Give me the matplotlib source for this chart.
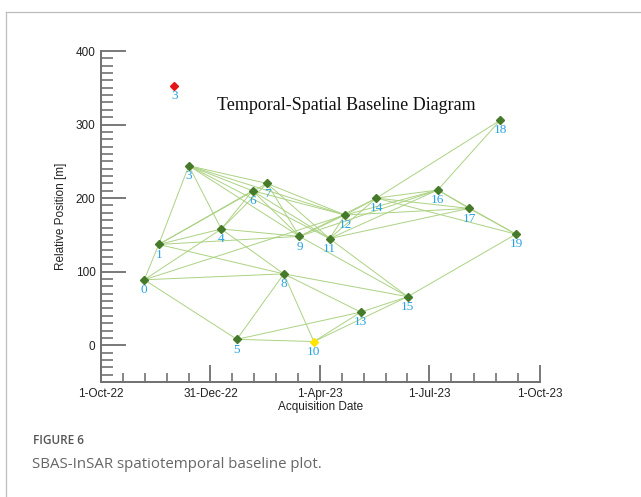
import numpy as np
import matplotlib
matplotlib.use("Agg")
import matplotlib.pyplot as plt
import matplotlib.dates as mdates

# acquisitions (label, date, relative position in m)
labels = ["0", "1", "3", "4", "5", "6", "7", "8", "9", "10",
          "11", "12", "13", "14", "15", "16", "17", "18", "19"]
dates = ["2022-11-06", "2022-11-18", "2022-12-13", "2023-01-09", "2023-01-22",
         "2023-02-04", "2023-02-16", "2023-03-02", "2023-03-15", "2023-03-27",
         "2023-04-09", "2023-04-22", "2023-05-05", "2023-05-18", "2023-06-13",
         "2023-07-08", "2023-08-03", "2023-08-29", "2023-09-11"]
position = [89, 137, 244, 158, 8, 210, 220, 97, 148, 5,
            145, 177, 45, 200, 66, 211, 186, 306, 151]

# outlier acquisition (red) and super master (yellow)
red_label = "3"
red_date = "2022-12-01"
red_pos = 353
master = "10"

# interferometric pairs, by label
pairs = [("0", "1"), ("0", "4"), ("0", "5"), ("0", "8"), ("0", "12"),
         ("1", "3"), ("1", "4"), ("1", "6"), ("1", "7"), ("1", "8"), ("1", "9"),
         ("3", "4"), ("3", "6"), ("3", "7"), ("3", "9"), ("3", "11"), ("3", "12"),
         ("4", "6"), ("4", "7"), ("4", "8"), ("4", "9"),
         ("5", "8"), ("5", "10"), ("5", "13"),
         ("6", "9"), ("6", "11"), ("6", "12"),
         ("7", "9"), ("7", "11"), ("7", "12"),
         ("8", "10"), ("8", "13"), ("8", "15"),
         ("9", "12"), ("9", "14"), ("9", "15"), ("9", "16"),
         ("10", "13"), ("10", "15"),
         ("11", "12"), ("11", "14"), ("11", "15"), ("11", "16"), ("11", "17"),
         ("12", "14"), ("12", "16"), ("12", "17"),
         ("13", "15"),
         ("14", "16"), ("14", "17"), ("14", "18"), ("14", "19"),
         ("15", "19"),
         ("16", "17"), ("16", "18"), ("16", "19"),
         ("17", "19")]

major_dates = ["2022-10-01", "2022-12-31", "2023-04-01", "2023-07-01", "2023-10-01"]
major_text = ["1-Oct-22", "31-Dec-22", "1-Apr-23", "1-Jul-23", "1-Oct-23"]

x = mdates.datestr2num(dates)
idx = {lab: i for i, lab in enumerate(labels)}

fig = plt.figure(figsize=(6.41, 4.97), dpi=100)

# frame of the figure panel
fig.add_artist(plt.Line2D([6 / 641, 1], [1 - 11.5 / 497] * 2, color="#bdbdbd", lw=0.9))
fig.add_artist(plt.Line2D([6 / 641] * 2, [0, 1 - 11.5 / 497], color="#bdbdbd", lw=0.9))

ax = fig.add_axes([101 / 641, 1 - 382 / 497, 439 / 641, 331 / 497])

for a, b in pairs:
    i, j = idx[a], idx[b]
    ax.plot([x[i], x[j]], [position[i], position[j]], color="#acd283", lw=0.7, zorder=1)

for i, lab in enumerate(labels):
    c = "#ffe600" if lab == master else "#467a2b"
    ax.plot(x[i], position[i], marker="D", ms=4.4, color=c, mec=c, ls="none", zorder=3)
    ax.annotate(lab, (x[i], position[i]), xytext=(0, -3), textcoords="offset points",
                ha="center", va="top", fontsize=9.5, color="#27a3e3",
                family="Liberation Serif", zorder=4)

xr = mdates.datestr2num(red_date)
ax.plot(xr, red_pos, marker="D", ms=4.4, color="#e5141b", ls="none", zorder=3)
ax.annotate(red_label, (xr, red_pos), xytext=(0, -3), textcoords="offset points",
            ha="center", va="top", fontsize=9.5, color="#27a3e3", family="Liberation Serif")

ax.text(0.558, 0.834, "Temporal-Spatial Baseline Diagram", transform=ax.transAxes,
        ha="center", va="center", fontsize=13, family="Liberation Serif", color="#111")

xmaj = mdates.datestr2num(major_dates)
ax.set_xlim(xmaj[0], xmaj[-1])
ax.set_ylim(-50, 400)
ax.set_xticks(xmaj)
ax.set_xticklabels(major_text)
xmin = np.concatenate([np.linspace(xmaj[k], xmaj[k + 1], 6)[1:-1] for k in range(len(xmaj) - 1)])
ax.set_xticks(xmin, minor=True)
ax.set_yticks([0, 100, 200, 300, 400])
ax.set_yticks(np.arange(-40, 400, 10), minor=True)

for s in ["top", "right"]:
    ax.spines[s].set_visible(False)
for s in ["left", "bottom"]:
    ax.spines[s].set_color("#707070")
    ax.spines[s].set_linewidth(1.4)

ax.tick_params(axis="x", which="major", direction="in", length=12, width=1.1, color="#555", pad=4)
ax.tick_params(axis="x", which="minor", direction="in", length=6.5, width=1.1, color="#666")
ax.tick_params(axis="y", which="major", direction="in", length=18, width=1.1, color="#555", pad=4)
ax.tick_params(axis="y", which="minor", direction="in", length=8.5, width=1.1, color="#666")
for t in ax.get_xticklabels() + ax.get_yticklabels():
    t.set_family("Liberation Sans")
    t.set_fontsize(8.5)
    t.set_color("#222")

ax.set_xlabel("Acquisition Date", family="Liberation Sans", fontsize=8.5, color="#222", labelpad=1)
ax.set_ylabel("Relative Position [m]", family="Liberation Sans", fontsize=8.5, color="#222", labelpad=6)

fig.text(33 / 641, 1 - 441 / 497, "FIGURE 6", family="Open Sans", fontsize=8.5,
         fontweight="semibold", color="#555", va="center")
fig.text(32 / 641, 1 - 465 / 497, "SBAS-InSAR spatiotemporal baseline plot.", family="Open Sans",
         fontsize=10.8, color="#666", va="center")

fig.savefig("out.png", dpi=100)
